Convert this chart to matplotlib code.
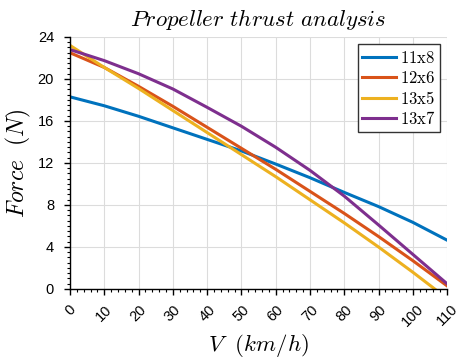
import matplotlib
matplotlib.use("Agg")
import matplotlib.pyplot as plt
from matplotlib.ticker import MultipleLocator

plt.rcParams['mathtext.fontset'] = 'cm'

V = [0, 10, 20, 30, 40, 50, 60, 70, 80, 90, 100, 110]
f_11x8 = [18.3, 17.45, 16.45, 15.35, 14.25, 13.15, 11.9, 10.6, 9.2, 7.85, 6.35, 4.65]
f_12x6 = [22.5, 21.1, 19.3, 17.4, 15.4, 13.4, 11.4, 9.3, 7.2, 5.0, 2.7, 0.3]
f_13x5 = [23.2, 21.1, 19.1, 17.0, 14.9, 12.8, 10.7, 8.5, 6.3, 4.0, 1.6, -0.9]
f_13x7 = [22.8, 21.75, 20.5, 19.05, 17.3, 15.5, 13.5, 11.3, 8.85, 6.1, 3.3, 0.5]
labels = ['11x8', '12x6', '13x5', '13x7']
colors = ['#0072BD', '#D95319', '#EDB120', '#7E2F8E']
xticks = list(range(0, 111, 10))
yticks = list(range(0, 25, 4))

fig = plt.figure(figsize=(4.59, 3.62), dpi=100)
ax = fig.add_axes([0.1525, 0.2017, 0.8215, 0.6961])

for data, lab, c in zip([f_11x8, f_12x6, f_13x5, f_13x7], labels, colors):
    ax.plot(V, data, color=c, lw=2.2, label=r'$\mathrm{%s}$' % lab)

ax.set_xlim(0, 110)
ax.set_ylim(0, 24)
ax.set_xticks(xticks)
ax.set_yticks(yticks)
ax.xaxis.set_minor_locator(MultipleLocator(2))
ax.yaxis.set_minor_locator(MultipleLocator(0.5))
ax.tick_params(which='major', direction='out', length=4.5, width=1, labelsize=10.5)
ax.tick_params(which='minor', direction='out', length=2.5, width=0.8)
ax.tick_params(axis='y', which='major', pad=7)
ax.tick_params(axis='x', which='major', pad=5)
for lbl in ax.get_xticklabels() + ax.get_yticklabels():
    lbl.set_fontfamily('Liberation Sans')
plt.setp(ax.get_xticklabels(), rotation=45, ha='center', va='top', rotation_mode='default')

ax.grid(True, which='major', color='#dcdcdc', lw=0.8)
ax.set_axisbelow(True)
for s in ['top', 'right']:
    ax.spines[s].set_visible(False)
ax.spines['left'].set_linewidth(1)
ax.spines['bottom'].set_linewidth(1)

ax.set_title(r'$Propeller\ thrust\ analysis$', fontsize=16.5, pad=8)
ax.set_xlabel(r'$V\ \ (km/h)$', fontsize=16.5, labelpad=2)
ax.set_ylabel(r'$Force\ \ (N)$', fontsize=17, labelpad=3)

leg = ax.legend(loc='upper right', fontsize=12, fancybox=False, framealpha=1,
                edgecolor='#333333', handlelength=2.0, handletextpad=0.25,
                borderpad=0.25, labelspacing=0.15, borderaxespad=0.45)
leg.get_frame().set_linewidth(1)

fig.savefig('out.png', dpi=100)
